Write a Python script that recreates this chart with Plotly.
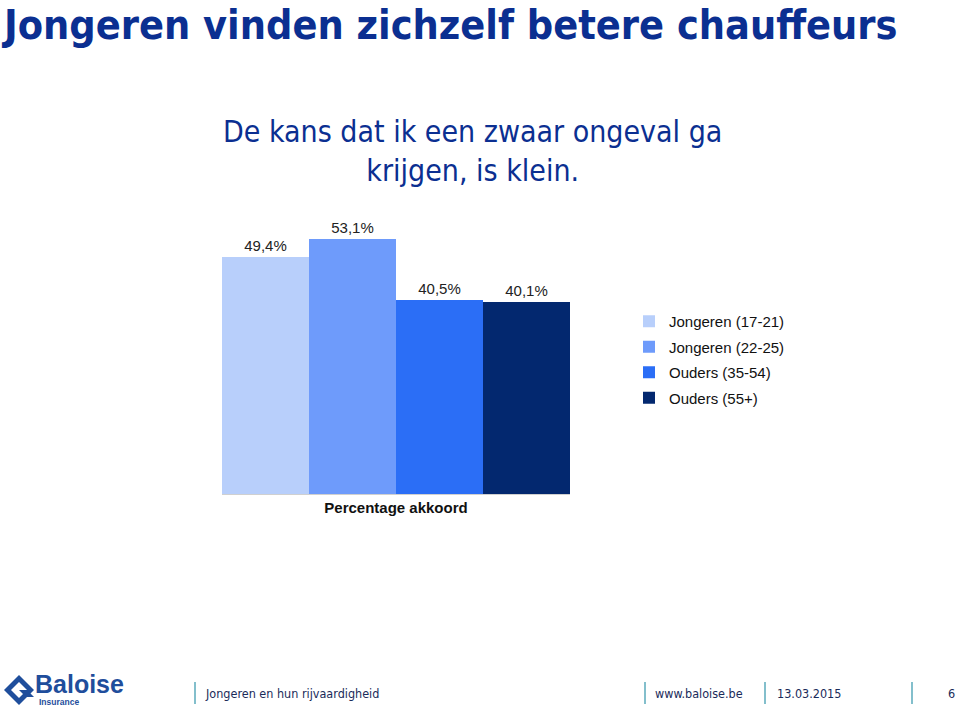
import plotly.graph_objects as go

W, H = 960, 707

category = ["Percentage akkoord"]
series_names = ["Jongeren (17-21)", "Jongeren (22-25)", "Ouders (35-54)", "Ouders (55+)"]
series_values = [49.4, 53.1, 40.5, 40.1]
value_labels = ["49,4%", "53,1%", "40,5%", "40,1%"]
colors = ["#B8CFFB", "#6E9BFB", "#2B6EF6", "#03286F"]

title_text = "Jongeren vinden zichzelf betere chauffeurs"
subtitle_text = "De kans dat ik een zwaar ongeval ga<br>krijgen, is klein."
footer_texts = ["Jongeren en hun rijvaardigheid", "www.baloise.be", "13.03.2015", "6"]

NARROW = "Liberation Sans Narrow, Arial Narrow, DejaVu Sans Condensed, sans-serif"
SANS = "Liberation Sans, Arial, Helvetica, sans-serif"
BLUE = "#0B2F91"


def px(x):
    return x / W


def py(y):
    return 1 - y / H


fig = go.Figure()
for name, val, lab, col in zip(series_names, series_values, value_labels, colors):
    fig.add_trace(go.Bar(
        x=category, y=[val], name=name, marker=dict(color=col, line=dict(width=0)),
        text=[lab], textposition="outside", cliponaxis=False,
        textfont=dict(family=SANS, size=15, color="#222222"),
        legendgroup=name,
    ))

fig.update_layout(
    width=W, height=H,
    margin=dict(l=0, r=0, t=0, b=0),
    paper_bgcolor="white", plot_bgcolor="white",
    barmode="group", bargap=0, bargroupgap=0,
    xaxis=dict(domain=[px(222), px(570)], showgrid=False, showline=True,
               linecolor="#D0D0D0", linewidth=1, ticks="", ticklen=0,
               tickfont=dict(family=SANS, size=15, color="#111111", weight="bold")),
    yaxis=dict(domain=[py(494), py(206)], range=[0, 60], visible=False),
    legend=dict(x=px(629), y=py(305), xanchor="left", yanchor="top",
                font=dict(family=SANS, size=15, color="#111111"),
                traceorder="grouped", tracegroupgap=3, bgcolor="rgba(0,0,0,0)"),
    showlegend=True,
)

annotations = [
    dict(text="<b>" + title_text + "</b>", x=px(0), y=py(0), xanchor="left", yanchor="top",
         font=dict(family=NARROW, size=41, color=BLUE), borderpad=0),
    dict(text=subtitle_text, x=px(472), y=py(151), xanchor="center", yanchor="middle",
         font=dict(family=NARROW, size=30, color=BLUE), align="center"),
    dict(text=footer_texts[0], x=px(203), y=py(693), xanchor="left", yanchor="middle",
         font=dict(family=NARROW, size=12.5, color="#1A2B5A")),
    dict(text=footer_texts[1], x=px(653), y=py(693), xanchor="left", yanchor="middle",
         font=dict(family=NARROW, size=12.5, color="#1A2B5A")),
    dict(text=footer_texts[2], x=px(775), y=py(693), xanchor="left", yanchor="middle",
         font=dict(family=NARROW, size=12.5, color="#1A2B5A")),
    dict(text=footer_texts[3], x=px(957), y=py(693), xanchor="right", yanchor="middle",
         font=dict(family=NARROW, size=12.5, color="#1A2B5A")),
    dict(text="<b>Baloise</b>", x=px(33), y=py(684), xanchor="left", yanchor="middle",
         font=dict(family=SANS, size=25, color="#1F4E9C")),
    dict(text="<b>Insurance</b>", x=px(37), y=py(702), xanchor="left", yanchor="middle",
         font=dict(family=SANS, size=8.5, color="#1F4E9C")),
]
for a in annotations:
    a.update(xref="paper", yref="paper", showarrow=False)
fig.update_layout(annotations=annotations)

shapes = []
for sx in [195, 645, 765, 912]:
    shapes.append(dict(type="line", xref="paper", yref="paper", x0=px(sx), x1=px(sx),
                       y0=py(682), y1=py(704), line=dict(color="#5AAABB", width=1.5)))


def pth(points):
    return "M " + " L ".join(f"{px(x)},{py(y)}" for x, y in points) + " Z"


shapes.append(dict(type="path", xref="paper", yref="paper",
                   path=pth([(4, 690), (19, 675), (34, 690), (19, 705)]),
                   fillcolor="#1F4E9C", line=dict(width=0)))
shapes.append(dict(type="path", xref="paper", yref="paper",
                   path=pth([(11, 690), (19, 682), (27, 690), (19, 698)]),
                   fillcolor="white", line=dict(width=0)))
shapes.append(dict(type="path", xref="paper", yref="paper",
                   path=pth([(19, 690), (27, 690), (34, 697), (26, 697)]),
                   fillcolor="#1F4E9C", line=dict(width=0)))
fig.update_layout(shapes=shapes)

fig.write_html("out.html", config={"displayModeBar": False},
               post_script="document.body.style.margin='0';")
